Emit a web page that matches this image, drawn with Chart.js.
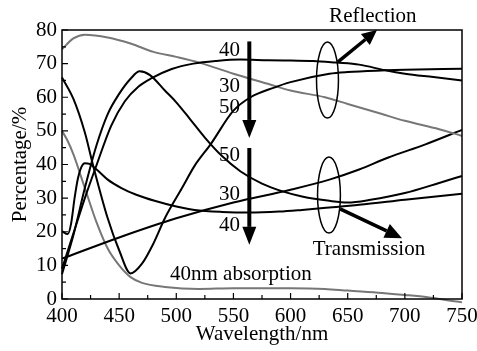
<!DOCTYPE html>
<html>
<head>
<meta charset="utf-8">
<script src="https://cdn.jsdelivr.net/npm/chart.js@4.4.0/dist/chart.umd.min.js"></script>
<style>
  html, body { margin: 0; padding: 0; background: #fff; }
  #wrap { width: 477px; height: 351px; }
</style>
</head>
<body>
<div id="wrap"><canvas id="chart" width="477" height="351"></canvas></div>
<script>
// values (wavelength in nm, percentage in %)
const wlRefl40 = [400, 410, 420, 430, 443, 455, 467, 478, 496, 515, 535, 556, 580, 600, 620, 640, 660, 683, 700, 725, 750];
const refl40   = [9, 19.5, 30, 39.6, 51.5, 58.8, 63.2, 65.6, 68.4, 70, 70.8, 71.2, 71, 70.9, 70.8, 70.3, 69.7, 68, 67, 66, 65];

const wlRefl50 = [400, 410, 420, 427, 440, 450, 460, 470, 480, 490, 505, 516, 530, 550, 565, 585, 600, 634, 650, 683, 700, 750];
const refl50   = [65.9, 59.5, 49.5, 40, 24, 14.5, 7.6, 10.5, 16.5, 24, 33, 39.6, 46, 56, 60, 62.8, 64.5, 67, 67.5, 68, 68.2, 68.5];

const wlRefl30 = [400, 410, 420, 440, 460, 480, 500, 520, 550, 580, 600, 630, 650, 680, 700, 730, 750];
const refl30   = [74.3, 77.5, 78.6, 77.8, 76, 73.5, 72, 70.3, 67, 64, 62, 60, 58, 55, 53, 50.5, 48.5];

const wlTrans50 = [400, 410, 420, 430, 440, 450, 460, 468, 477, 490, 500, 512, 525, 540, 556, 575, 593, 610, 634, 650, 670, 700, 730, 750];
const trans50   = [7.4, 19, 33, 45.5, 55, 61, 65.5, 67.7, 66.6, 62, 58.5, 53.5, 48, 42.5, 38, 34.3, 32, 30.5, 29.2, 28.7, 29.5, 31.5, 34.5, 36.6];

const wlTrans40 = [400, 405, 408, 411, 414, 417, 420, 424, 430, 440, 452, 465, 481, 500, 516, 540, 564, 590, 610, 634, 660, 700, 750];
const trans40   = [20.2, 19.3, 22.5, 30, 36, 39.3, 40.4, 40.2, 38.6, 35.5, 33, 31, 29.2, 27.5, 26.5, 25.9, 25.7, 26, 26.5, 27.2, 28, 29.5, 31.3];

const wlTrans30 = [400, 450, 500, 550, 600, 634, 660, 685, 718, 750];
const trans30   = [12, 18.3, 24, 28.7, 32.5, 35.5, 38.5, 42, 46, 50.3];

const wlAbs40 = [400, 405, 410, 420, 430, 440, 450, 460, 470, 490, 520, 550, 600, 630, 650, 680, 700, 720, 740, 750, 762];
const abs40   = [50, 47, 43, 33, 23, 15, 10, 6.5, 4.8, 3.6, 3, 3.2, 3.2, 3, 2.5, 1.8, 1.2, 0.5, -0.5, -1, -2.2];

const xTicks = [400, 450, 500, 550, 600, 650, 700, 750];
const yTicks = [0, 10, 20, 30, 40, 50, 60, 70, 80];

const FONT = "'Liberation Serif', 'Times New Roman', serif";

function pts(xs, ys) {
  return xs.map((x, i) => ({ x: x, y: ys[i] }));
}

function series(label, xs, ys, color) {
  return {
    label: label,
    data: pts(xs, ys),
    borderColor: color,
    borderWidth: 2,
    pointRadius: 0,
    fill: false,
    cubicInterpolationMode: 'monotone',
    clip: false
  };
}

// draw an arrow with a filled head
function arrow(ctx, x1, y1, x2, y2, lw, headLen, headW) {
  const a = Math.atan2(y2 - y1, x2 - x1);
  const bx = x2 - headLen * Math.cos(a);
  const by = y2 - headLen * Math.sin(a);
  ctx.lineWidth = lw;
  ctx.beginPath();
  ctx.moveTo(x1, y1);
  ctx.lineTo(bx, by);
  ctx.stroke();
  ctx.beginPath();
  ctx.moveTo(x2, y2);
  ctx.lineTo(bx + headW / 2 * Math.sin(a), by - headW / 2 * Math.cos(a));
  ctx.lineTo(bx - headW / 2 * Math.sin(a), by + headW / 2 * Math.cos(a));
  ctx.closePath();
  ctx.fill();
}

// frame, inward ticks and the notes drawn on the plot
const decorations = {
  id: 'decorations',
  afterDatasetsDraw(chart) {
    const ctx = chart.ctx;
    const { left, right, top, bottom } = chart.chartArea;
    const xs = chart.scales.x, ys = chart.scales.y;
    const px = v => xs.getPixelForValue(v);
    const py = v => ys.getPixelForValue(v);

    ctx.save();
    ctx.strokeStyle = '#000';
    ctx.fillStyle = '#000';

    ctx.lineWidth = 1.5;
    ctx.strokeRect(left, top, right - left, bottom - top);

    ctx.lineWidth = 1.2;
    ctx.beginPath();
    xs.ticks.forEach(t => {
      const x = px(t.value);
      const len = t.value % 50 === 0 ? 6 : 4;
      ctx.moveTo(x, bottom);
      ctx.lineTo(x, bottom - len);
    });
    ys.ticks.forEach(t => {
      const y = py(t.value);
      const len = t.value % 10 === 0 ? 6 : 4;
      ctx.moveTo(left, y);
      ctx.lineTo(left + len, y);
    });
    ctx.stroke();

    // ellipses
    ctx.lineWidth = 1.5;
    ctx.beginPath();
    ctx.ellipse(px(632.3), py(65.1), px(641.9) - px(632.3), py(53.8) - py(65.1), 0, 0, Math.PI * 2);
    ctx.stroke();
    ctx.beginPath();
    ctx.ellipse(px(633.6), py(30.9), px(643.6) - px(633.6), py(19.6) - py(30.9), 0, 0, Math.PI * 2);
    ctx.stroke();

    // arrows
    arrow(ctx, px(641.5), py(70.5), px(675.6), py(80), 3.5, 15, 14);
    arrow(ctx, px(643.3), py(26.8), px(697.5), py(18.1), 3.5, 17, 15);
    arrow(ctx, px(563.9), py(76.6), px(563.9), py(47.9), 4, 18, 14);
    arrow(ctx, px(563.9), py(44.9), px(563.9), py(16.1), 4, 18, 14);

    ctx.font = '21px ' + FONT;
    ctx.textBaseline = 'middle';
    ctx.textAlign = 'right';
    [['40', 73.8], ['30', 63.3], ['50', 57.1], ['50', 42.8], ['30', 31.2], ['40', 22]].forEach(([s, v]) => {
      ctx.fillText(s, px(555.75), py(v));
    });
    ctx.textAlign = 'center';
    ctx.fillText('Reflection', px(672), py(83.9));
    ctx.fillText('Transmission', px(668.6), py(14.6));
    ctx.textAlign = 'left';
    ctx.fillText('40nm absorption', px(494.5), py(7.4));
    ctx.restore();
  }
};

new Chart(document.getElementById('chart'), {
  type: 'line',
  data: {
    datasets: [
      series('Reflection 40nm', wlRefl40, refl40, '#000'),
      series('Reflection 50nm', wlRefl50, refl50, '#000'),
      series('Reflection 30nm', wlRefl30, refl30, '#777'),
      series('Transmission 50nm', wlTrans50, trans50, '#000'),
      series('Transmission 40nm', wlTrans40, trans40, '#000'),
      series('Transmission 30nm', wlTrans30, trans30, '#000'),
      series('40nm absorption', wlAbs40, abs40, '#777')
    ]
  },
  options: {
    responsive: false,
    animation: false,
    devicePixelRatio: 1,
    layout: { padding: { left: 0, right: 15, top: 30, bottom: 0 } },
    plugins: { legend: { display: false }, tooltip: { enabled: false } },
    scales: {
      x: {
        type: 'linear',
        min: 400,
        max: 750,
        grid: { display: false, drawTicks: false },
        border: { display: false },
        ticks: {
          stepSize: 25,
          autoSkip: false,
          maxRotation: 0,
          padding: 5,
          color: '#000',
          font: { family: FONT, size: 21 },
          callback: v => xTicks.includes(v) ? String(v) : ''
        },
        title: {
          display: true,
          text: 'Wavelength/nm',
          color: '#000',
          font: { family: FONT, size: 21 },
          padding: { top: 0, bottom: 4 }
        },
        afterFit: s => { s.height = 52; s.paddingLeft = 0; s.paddingRight = 0; }
      },
      y: {
        min: 0,
        max: 80,
        grid: { display: false, drawTicks: false },
        border: { display: false },
        ticks: {
          stepSize: 5,
          autoSkip: false,
          padding: 5,
          color: '#000',
          font: { family: FONT, size: 21 },
          callback: v => yTicks.includes(v) ? String(v) : ''
        },
        title: {
          display: true,
          text: 'Percentage/%',
          color: '#000',
          font: { family: FONT, size: 21 },
          padding: { top: 8, bottom: 0 }
        },
        afterFit: s => { s.width = 62; s.paddingTop = 0; s.paddingBottom = 0; }
      }
    }
  },
  plugins: [decorations]
});
</script>
</body>
</html>
